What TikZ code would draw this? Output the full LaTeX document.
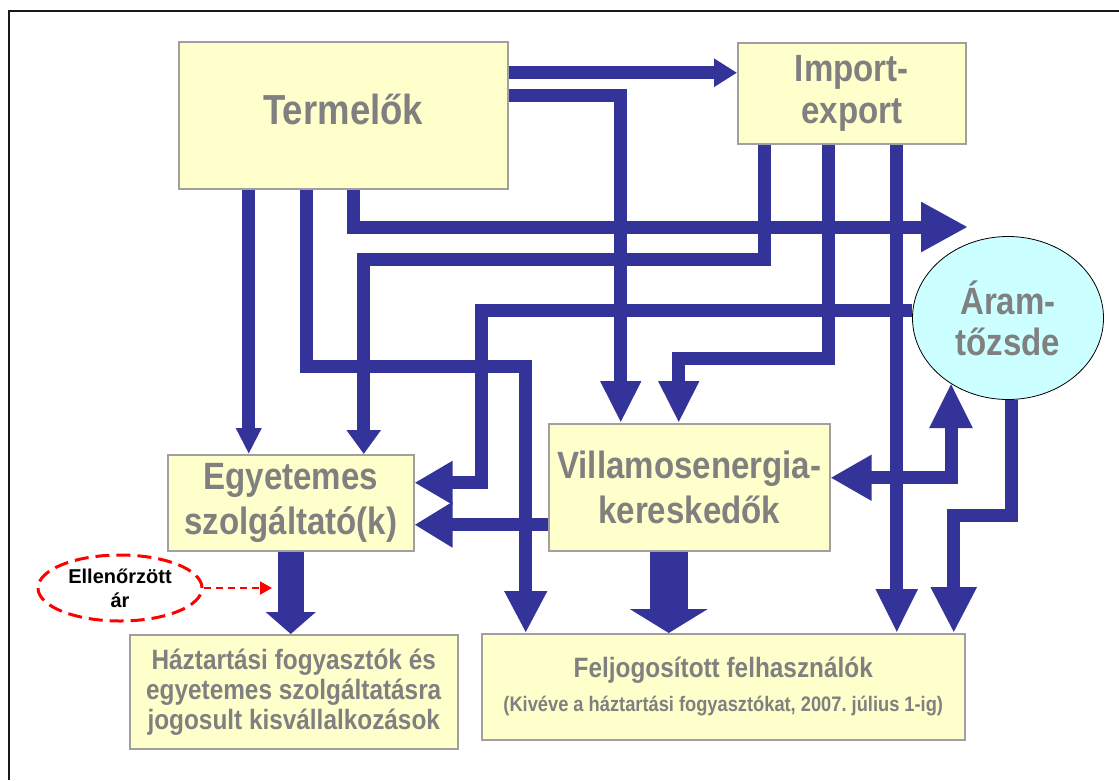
\documentclass[tikz,border=0pt]{standalone}
\usepackage{fontspec}
\setmainfont{Liberation Sans}
\newfontfamily\lblfont{Liberation Sans}[FakeStretch=0.87]
\usetikzlibrary{arrows.meta,shapes.geometric}
\frenchspacing
\definecolor{flowblue}{HTML}{333399}
\definecolor{boxfill}{HTML}{FFFFCC}
\definecolor{boxline}{HTML}{A0A0A0}
\definecolor{labelgray}{HTML}{808080}
\definecolor{exfill}{HTML}{CCFFFF}
\definecolor{ctrlred}{HTML}{FF0000}

\begin{document}
\begin{tikzpicture}[x=1pt,y=-1pt,
  box/.style={draw=boxline, line width=1.5pt, fill=boxfill, inner sep=0pt,
    anchor=north west, align=center, text=labelgray},
  big/.style={font=\lblfont\bfseries\fontsize{38}{#1}\selectfont},
  big/.default=45,
  flow/.style={draw=flowblue, line width=13pt},
  head/.style 2 args={-{Triangle[width=#1pt,length=#2pt]}},
]
\useasboundingbox (0,0) rectangle (1119,780);

% frame
\draw[line width=2pt, black!90] (9,780) -- (9,11) -- (1119,11);

% market participants
\node[box, font=\lblfont\bfseries\fontsize{42}{48}\selectfont, text depth=12pt,
  minimum width=329, minimum height=147] (term) at (178,41) {Termelők};
\node[box, big=42, minimum width=228, minimum height=101] (imp) at (737,42)
  {Import-\\export};
\node[ellipse, draw=black, line width=0.8pt, fill=exfill, inner sep=0pt,
  minimum width=191, minimum height=163, align=center, text=labelgray, big=41]
  (aram) at (1008,318) {Áram-\\tőzsde};
\node[box, big, minimum width=246, minimum height=96] (egy) at (167,454)
  {Egyetemes\\szolgáltató(k)};
\node[box, big, minimum width=281, minimum height=127] (vill) at (548,423)
  {Villamosenergia-\\kereskedők};
\node[box, font=\lblfont\bfseries\fontsize{28}{30}\selectfont,
  minimum width=328, minimum height=114] (haz) at (129,634)
  {Háztartási fogyasztók és\\egyetemes szolgáltatásra\\jogosult kisvállalkozások};
\node[box, font=\lblfont\bfseries\fontsize{28}{34}\selectfont,
  minimum width=483, minimum height=106] (felj) at (481,633)
  {Feljogosított felhasználók\\{\fontsize{21}{34}\selectfont (Kivéve a háztartási fogyasztókat, 2007. július 1-ig)}};
\node[ellipse, draw=ctrlred, line width=3pt, dash pattern=on 14pt off 7pt,
  inner sep=0pt, minimum width=164, minimum height=66, align=center,
  font=\bfseries\fontsize{20}{24}\selectfont] (ell) at (120,588)
  {Ellenőrzött\\ár};

% connector end points on the boxes
\coordinate (t1) at ([yshift=42.5pt]term.east);
\coordinate (t2) at ([yshift=20pt]term.east);
\coordinate (t3) at ([xshift=10.5pt]term.south);
\coordinate (t4) at ([xshift=-94.5pt]term.south);
\coordinate (t5) at ([xshift=-36.5pt]term.south);
\coordinate (i6) at ([xshift=-87pt]imp.south);
\coordinate (i7) at ([xshift=-23pt]imp.south);
\coordinate (i8) at ([xshift=45pt]imp.south);
\coordinate (a3) at ([shift={(-40,-91)}]aram.center);
\coordinate (a9) at ([yshift=8pt]aram.west);
\coordinate (a11) at ([shift={(-57,65)}]aram.center);
\coordinate (a12) at ([xshift=3pt]aram.south);
\coordinate (v2) at ([xshift=-68.5pt]vill.north);
\coordinate (v7) at ([xshift=-10.5pt]vill.north);
\coordinate (v10) at ([yshift=-37.5pt]vill.west);
\coordinate (v11) at ([yshift=9.5pt]vill.east);
\coordinate (v14) at ([xshift=-20.5pt]vill.south);
\coordinate (e6) at ([xshift=73pt]egy.north);
\coordinate (e9) at ([yshift=20pt]egy.east);
\coordinate (f5) at ([xshift=-197.5pt]felj.north);
\coordinate (f12) at ([xshift=230.5pt]felj.north);
\coordinate (rtip) at (272,588);

% flows out of the producers
\draw[flow, head={27}{23}] (t1) -- (t1 -| imp.west);
\draw[flow, head={38}{42}] (t2) -| (v2);
\draw[flow, head={47}{47}] (t3) |- (a3);
\draw[flow, head={24}{26}] (t4) -- (t4 |- egy.north);
\draw[flow, head={40}{42}] (t5) -- ++(0,177) -| (f5);

% flows out of import-export
\draw[flow, head={33}{24}] (i6) -- ++(0,115) -| (e6);
\draw[flow, head={38}{42}] (i7) -- ++(0,214) -| (v7);
\draw[flow, head={39}{44}] (i8) -- (i8 |- felj.north);

% flows around the power exchange
\draw[flow, head={41}{38}] (a9) -- ++(-431,0) |- (e9);
\draw[flow, {Triangle[width=43pt,length=41pt]}-{Triangle[width=40pt,length=45pt]}]
  (v11) -| (a11);
\draw[flow, head={43}{46}] (a12) -- ++(0,115.5) -| (f12);

% traders and universal providers
\draw[flow, head={43}{38}] (v10) -- (v10 -| egy.east);
\draw[draw=flowblue, line width=26pt, head={49}{22}] (egy.south) -- (egy.south |- haz.north);
\draw[draw=flowblue, line width=38pt, head={77}{24}] (v14) -- (v14 |- felj.north);

% regulated price
\draw[ctrlred, line width=2pt, dash pattern=on 7pt off 5pt,
  -{Triangle[width=13pt,length=12pt]}] (ell.east) -- (rtip);
\end{tikzpicture}
\end{document}
